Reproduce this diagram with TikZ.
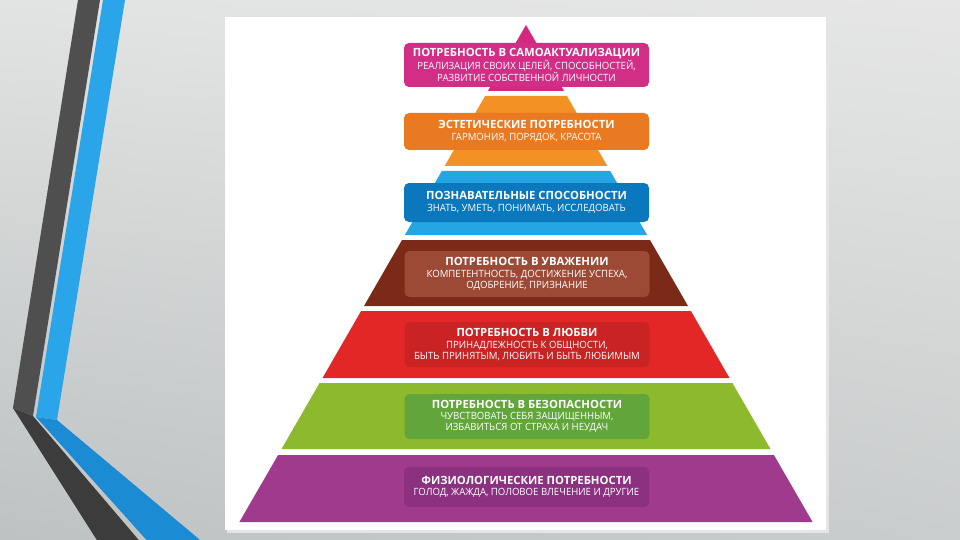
\documentclass[tikz,border=0pt]{standalone}
\usepackage{fontspec}
\setmainfont{Open Sans}
\newfontfamily\subfont[FakeStretch=0.96]{Open Sans}
\usetikzlibrary{shadings}
\definecolor{bgA}{HTML}{E6E6E6}
\definecolor{bgB}{HTML}{E2E3E3}
\definecolor{bgC}{HTML}{BEC2C2}
\definecolor{bgD}{HTML}{CACDCD}
\definecolor{darkV}{HTML}{4F4F4F}
\definecolor{darkD}{HTML}{3C3C3C}
\definecolor{bluV}{HTML}{2AA5EA}
\definecolor{bluD}{HTML}{1B8BD3}
\definecolor{magT}{HTML}{D4287F}
\definecolor{magB}{HTML}{D22E86}
\definecolor{orgT}{HTML}{F39124}
\definecolor{orgB}{HTML}{EA7A22}
\definecolor{bluT}{HTML}{23A6E3}
\definecolor{bluB}{HTML}{0B77BD}
\definecolor{brnT}{HTML}{7C2A18}
\definecolor{brnB}{HTML}{9C4A36}
\definecolor{redT}{HTML}{E32726}
\definecolor{redB}{HTML}{C92323}
\definecolor{grnT}{HTML}{8CBA2C}
\definecolor{grnB}{HTML}{62A53A}
\definecolor{purT}{HTML}{A03A8C}
\definecolor{purB}{HTML}{8C3080}
\newcommand\ttl[1]{{\rmfamily\bfseries\fontsize{11.3}{12.5}\selectfont #1}\\[0.5pt]}
\begin{document}
\begin{tikzpicture}[x=1pt,y=-1pt,
  lbl/.style={rounded corners=5pt, minimum width=245pt, align=center,
    text=white, inner sep=0pt, font=\subfont\fontsize{10}{11}\selectfont}]
\useasboundingbox (0,0) rectangle (960,540);
\begin{scope}
\clip (0,0) rectangle (960,540);
% background
\shade[upper left=bgB, upper right=bgA, lower left=bgC, lower right=bgD] (0,0) rectangle (960,540);
% left decoration
\fill[darkV] (78,0) -- (100,0) -- (33,416) -- (13,408) -- cycle;
\fill[darkD] (13,408) -- (33,416) -- (143,545) -- (100,545) -- cycle;
\fill[bluV] (103,0) -- (125,0) -- (57,420) -- (36,417) -- cycle;
\fill[bluD] (36,417) -- (57,420) -- (206,545) -- (151,545) -- cycle;
% panel
\fill[black!10] (227,19) rectangle (829,533);
\fill[white] (225,17) rectangle (826,530);
% tiers
\fill[magT] (526,25) -- (564.1,91) -- (487.9,91) -- cycle;
\fill[orgT] (485.1,96) -- (566.9,96) -- (607.3,166) -- (444.7,166) -- cycle;
\fill[bluT] (441.8,171) -- (610.2,171) -- (647.1,235) -- (404.9,235) -- cycle;
\fill[brnT] (402.0,240) -- (650.0,240) -- (688.0,306) -- (364.0,306) -- cycle;
\fill[redT] (361.1,311) -- (690.9,311) -- (729.5,378) -- (322.5,378) -- cycle;
\fill[grnT] (319.6,383) -- (732.4,383) -- (770.5,449) -- (281.5,449) -- cycle;
\fill[purT] (278.1,455) -- (773.9,455) -- (812.6,522) -- (239.4,522) -- cycle;
\end{scope}
% labels
\node[lbl, fill=magB, minimum height=44pt] (n1) at (526.5,65)
 {\ttl{ПОТРЕБНОСТЬ В САМОАКТУАЛИЗАЦИИ}
  РЕАЛИЗАЦИЯ СВОИХ ЦЕЛЕЙ, СПОСОБНОСТЕЙ,\\ РАЗВИТИЕ СОБСТВЕННОЙ ЛИЧНОСТИ};
\node[lbl, fill=orgB, minimum height=37pt] (n2) at (526.5,131.5)
 {\ttl{ЭСТЕТИЧЕСКИЕ ПОТРЕБНОСТИ}
  ГАРМОНИЯ, ПОРЯДОК, КРАСОТА};
\node[lbl, fill=bluB, minimum height=39pt] (n3) at (526.5,202.5)
 {\ttl{ПОЗНАВАТЕЛЬНЫЕ СПОСОБНОСТИ}
  ЗНАТЬ, УМЕТЬ, ПОНИМАТЬ, ИССЛЕДОВАТЬ};
\node[lbl, fill=brnB, minimum height=46pt] (n4) at (527,274)
 {\ttl{ПОТРЕБНОСТЬ В УВАЖЕНИИ}
  КОМПЕТЕНТНОСТЬ, ДОСТИЖЕНИЕ УСПЕХА,\\ ОДОБРЕНИЕ, ПРИЗНАНИЕ};
\node[lbl, fill=redB, minimum height=45pt] (n5) at (527,344.5)
 {\ttl{ПОТРЕБНОСТЬ В ЛЮБВИ}
  ПРИНАДЛЕЖНОСТЬ К ОБЩНОСТИ,\\ БЫТЬ ПРИНЯТЫМ, ЛЮБИТЬ И БЫТЬ ЛЮБИМЫМ};
\node[lbl, fill=grnB, minimum height=45pt] (n6) at (527,416.5)
 {\ttl{ПОТРЕБНОСТЬ В БЕЗОПАСНОСТИ}
  ЧУВСТВОВАТЬ СЕБЯ ЗАЩИЩЕННЫМ,\\ ИЗБАВИТЬСЯ ОТ СТРАХА И НЕУДАЧ};
\node[lbl, fill=purB, minimum height=40pt] (n7) at (526.5,487)
 {\ttl{ФИЗИОЛОГИЧЕСКИЕ ПОТРЕБНОСТИ}
  ГОЛОД, ЖАЖДА, ПОЛОВОЕ ВЛЕЧЕНИЕ И ДРУГИЕ};
\end{tikzpicture}
\end{document}
